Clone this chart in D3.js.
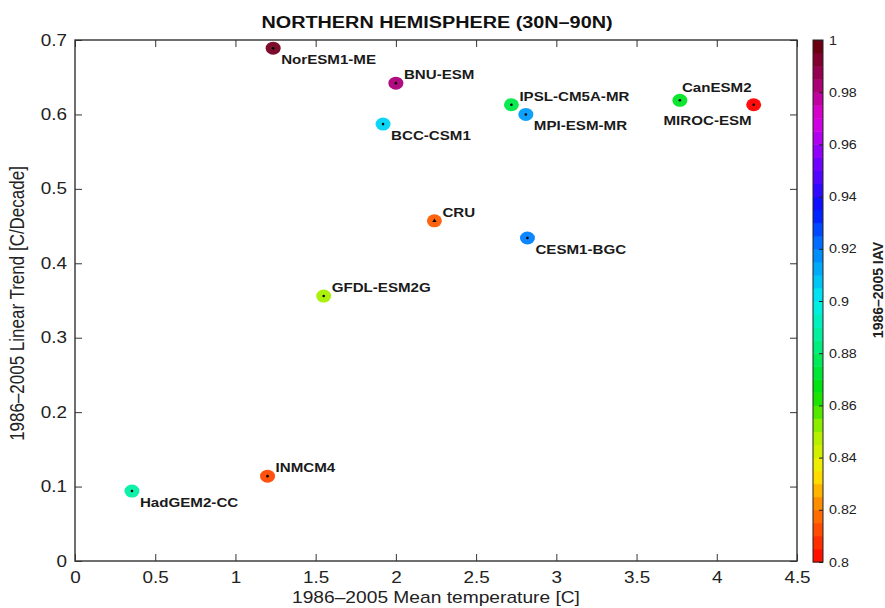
<!DOCTYPE html>
<html><head><meta charset="utf-8">
<script src="https://cdn.jsdelivr.net/npm/d3@7"></script>
<style>body{margin:0;background:#fff;} text{font-family:"Liberation Sans",Arial,Helvetica,sans-serif;}</style>
</head><body>
<svg id="c" width="885" height="608"></svg>
<script>
const models = ["NorESM1-ME","BNU-ESM","BCC-CSM1","IPSL-CM5A-MR","MPI-ESM-MR","CanESM2","MIROC-ESM","CRU","CESM1-BGC","GFDL-ESM2G","INMCM4","HadGEM2-CC"];
const meanTemp = [1.235,2.0,1.92,2.72,2.81,3.77,4.23,2.24,2.82,1.55,1.20,0.355];
const trend = [0.689,0.642,0.587,0.613,0.600,0.619,0.613,0.457,0.434,0.356,0.114,0.094];
const iav = [0.995,0.982,0.905,0.875,0.915,0.870,0.800,0.815,0.920,0.850,0.812,0.888];
const labelPos = ["se","ne","se","ne","se","ne","sw","ne","se","ne","ne","se"];
const xTicks = [0,0.5,1,1.5,2,2.5,3,3.5,4,4.5];
const yTicks = [0,0.1,0.2,0.3,0.4,0.5,0.6,0.7];
const cTicks = [0.8,0.82,0.84,0.86,0.88,0.9,0.92,0.94,0.96,0.98,1];
const cStops = [0.8,0.82,0.835,0.85,0.865,0.885,0.9,0.92,0.935,0.955,0.97,0.985,1];
const cColors = ["#ff0000","#ff7a00","#ffee00","#a8f000","#00e000","#00f090","#00f0f0","#0080ff","#0010ff","#8000ff","#e000e0","#a00060","#600000"];

const svg = d3.select("#c");
const L=75,R=797,T=40,B=561;
const x = d3.scaleLinear().domain([0,4.5]).range([L,R]);
const y = d3.scaleLinear().domain([0,0.7]).range([B,T]);
const col = d3.scaleLinear().domain(cStops).range(cColors).clamp(true);

function stext(px,py,str,size,sx,opts={}){
  const t = svg.append("text").attr("transform",`translate(${px},${py}) scale(${sx},1)`)
    .attr("font-size",size).attr("fill",opts.fill||"#222").attr("text-anchor",opts.anchor||"start").text(str);
  if(opts.bold) t.attr("font-weight","bold");
  return t;
}
function stretchTicks(g,sx,size){
  g.selectAll("text").each(function(){
    const s=d3.select(this); const xa=+s.attr("x")||0;
    s.attr("x",xa/sx).attr("transform",`scale(${sx},1)`);
  }).attr("font-size",size).attr("fill","#222").attr("font-family","'Liberation Sans',Arial,sans-serif");
}

// title
stext(437,28,"NORTHERN HEMISPHERE (30N\u201390N)",16.8,1.18,{anchor:"middle",bold:true,fill:"#111"});

// axes
const clean = g=>{g.select(".domain").remove();g.selectAll("line").attr("stroke","#333");};
svg.append("g").attr("transform",`translate(0,${B})`).call(d3.axisBottom(x).tickValues(xTicks).tickFormat(d3.format("")).tickSize(-7).tickPadding(11)).call(clean).call(g=>stretchTicks(g,1.18,16));
svg.append("g").attr("transform",`translate(0,${T})`).call(d3.axisTop(x).tickValues(xTicks).tickFormat("").tickSize(-7)).call(clean);
svg.append("g").attr("transform",`translate(${L},0)`).call(d3.axisLeft(y).tickValues(yTicks).tickFormat(d3.format("")).tickSize(-7).tickPadding(8)).call(clean).call(g=>stretchTicks(g,1.18,16));
svg.append("g").attr("transform",`translate(${R},0)`).call(d3.axisRight(y).tickValues(yTicks).tickFormat("").tickSize(-7)).call(clean);
svg.append("rect").attr("x",L).attr("y",T).attr("width",R-L).attr("height",B-T).attr("fill","none").attr("stroke","#333").attr("stroke-width",1.4);

stext(436,603,"1986\u20132005 Mean temperature [C]",16,1.2,{anchor:"middle"});
svg.append("text").attr("transform",`translate(24,${(T+B)/2+3}) rotate(-90) scale(1,1.15)`).attr("text-anchor","middle").attr("font-size",17).attr("fill","#222").text("1986\u20132005 Linear Trend [C/Decade]");

// points
const data = models.map((m,i)=>({m,x:meanTemp[i],y:trend[i],c:iav[i],p:labelPos[i]}));
const g = svg.append("g");
data.forEach(d=>{
  const cx=x(d.x), cy=y(d.y);
  g.append("ellipse").attr("cx",cx).attr("cy",cy).attr("rx",7.5).attr("ry",6.5).attr("fill",col(d.c)).attr("opacity",0.95);
  if(d.m==="CRU") g.append("path").attr("d",d3.symbol(d3.symbolTriangle,8)()).attr("transform",`translate(${cx},${cy})`).attr("fill","#000");
  else g.append("circle").attr("cx",cx).attr("cy",cy).attr("r",1.3).attr("fill","#000");
});
data.forEach(d=>{
  const cx=x(d.x), cy=y(d.y);
  let tx,ty,anchor="start";
  if(d.p==="se"){tx=cx+8;ty=cy+16;}
  else if(d.p==="ne"){tx=cx+8;ty=cy-4;}
  else {tx=cx-2;ty=cy+20;anchor="end";}
  if(d.m==="CanESM2"){tx=cx+2;ty=cy-8;}
  stext(tx,ty,d.m,13.5,1.12,{anchor,bold:true,fill:"#1a1a1a"});
});

// colorbar
const cb = d3.scaleLinear().domain([0.8,1]).range([562,40]);
const cbx=813, cbw=10;
const steps = d3.range(0.8,1.0,0.005);
svg.append("g").selectAll("rect").data(steps).join("rect")
  .attr("x",cbx).attr("width",cbw).attr("y",d=>cb(d+0.005)).attr("height",d=>cb(d)-cb(d+0.005)+0.5).attr("fill",d=>col(d+0.0025));
svg.append("rect").attr("x",cbx).attr("y",40).attr("width",cbw).attr("height",522).attr("fill","none").attr("stroke","#222");
const cax = svg.append("g").attr("transform",`translate(${cbx+cbw},0)`).call(d3.axisRight(cb).tickValues(cTicks).tickFormat(d3.format("")).tickSize(-4).tickPadding(6));
cax.select(".domain").remove(); cax.selectAll("line").attr("stroke","#222");
stretchTicks(cax,1.1,13);
svg.append("text").attr("transform",`translate(883,290) rotate(-90)`).attr("text-anchor","middle").attr("font-weight","bold").attr("font-size",14).attr("fill","#222").text("1986\u20132005 IAV");
</script>
</body></html>
